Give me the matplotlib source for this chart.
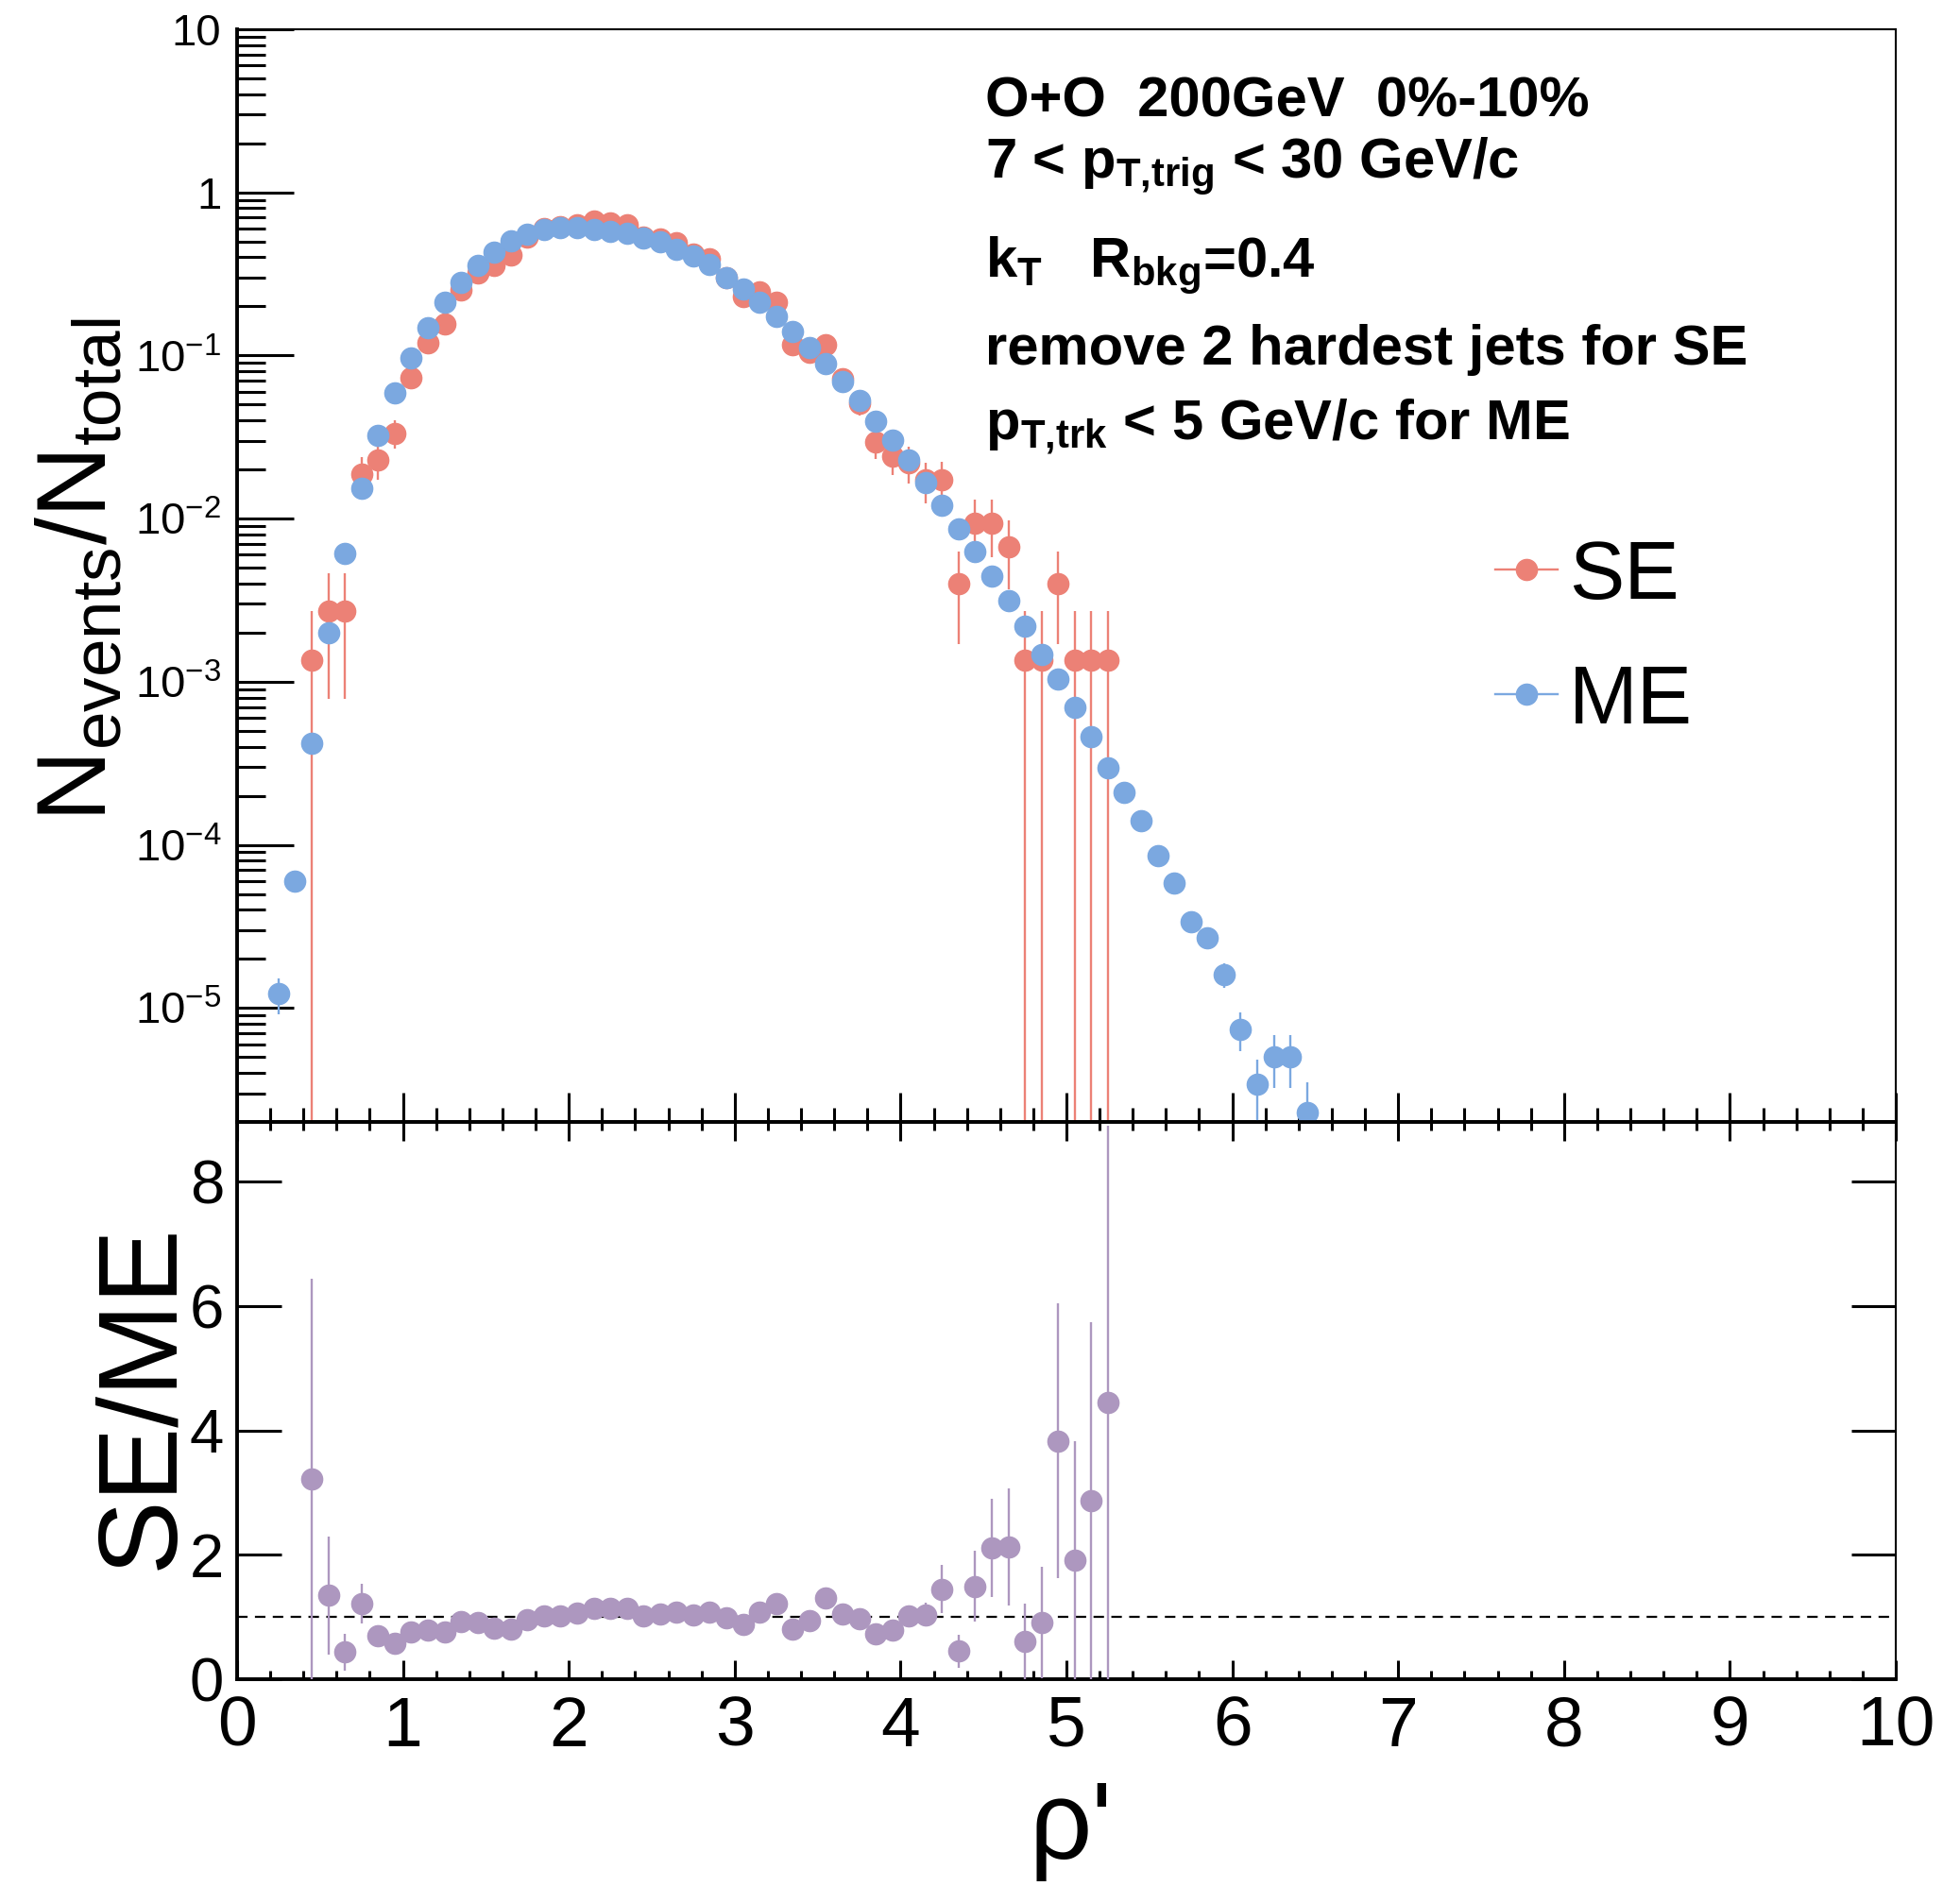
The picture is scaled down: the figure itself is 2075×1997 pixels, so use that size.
import numpy as np
import matplotlib
matplotlib.use("Agg")
import matplotlib.pyplot as plt
from matplotlib.lines import Line2D
from matplotlib.ticker import (FixedLocator, MultipleLocator, LogLocator,
                               FuncFormatter, NullFormatter)

plt.rcParams['font.family'] = ['Liberation Sans', 'DejaVu Sans']
plt.rcParams['mathtext.fontset'] = 'custom'
plt.rcParams['mathtext.rm'] = 'Liberation Sans'
plt.rcParams['mathtext.it'] = 'Liberation Sans:italic'
plt.rcParams['mathtext.bf'] = 'Liberation Sans:bold'
plt.rcParams['mathtext.sf'] = 'Liberation Sans'

# ---- data ----
# mixed-event (ME) distribution, bin centres 0.25 ... 6.45
me_x = [0.25, 0.35, 0.45, 0.55, 0.65, 0.75, 0.85, 0.95, 1.05, 1.15,
        1.25, 1.35, 1.45, 1.55, 1.65, 1.75, 1.85, 1.95, 2.05, 2.15,
        2.25, 2.35, 2.45, 2.55, 2.65, 2.75, 2.85, 2.95, 3.05, 3.15,
        3.25, 3.35, 3.45, 3.55, 3.65, 3.75, 3.85, 3.95, 4.05, 4.15,
        4.25, 4.35, 4.45, 4.55, 4.65, 4.75, 4.85, 4.95, 5.05, 5.15,
        5.25, 5.35, 5.45, 5.55, 5.65, 5.75, 5.85, 5.95, 6.05, 6.15,
        6.25, 6.35, 6.45]
me_y = [1.22e-5, 5.98e-5, 4.2e-4, 2.0e-3, 6.1e-3, 0.0153, 0.0322, 0.059, 0.0964, 0.148,
        0.211, 0.281, 0.356, 0.430, 0.502, 0.553, 0.592, 0.605, 0.605, 0.595,
        0.578, 0.561, 0.525, 0.500, 0.450, 0.408, 0.360, 0.301, 0.257, 0.213,
        0.173, 0.140, 0.112, 0.0887, 0.0689, 0.0532, 0.0398, 0.0301, 0.0229, 0.0166,
        0.0121, 0.0087, 0.0063, 0.00446, 0.00313, 0.00219, 0.00147, 0.00104, 6.98e-4, 4.62e-4,
        2.98e-4, 2.09e-4, 1.40e-4, 8.6e-5, 5.85e-5, 3.37e-5, 2.69e-5, 1.60e-5, 7.4e-6, 3.42e-6,
        5.05e-6, 5.05e-6, 2.28e-6]
me_err = [3.0e-6, 6e-6, 2e-5, 5e-5, 1e-4, 2e-4, 3e-4, 4e-4, 5e-4, 6e-4,
          7e-4, 8e-4, 9e-4, 1e-3, 1e-3, 1e-3, 1e-3, 1e-3, 1e-3, 1e-3,
          1e-3, 1e-3, 1e-3, 1e-3, 1e-3, 9e-4, 9e-4, 8e-4, 7e-4, 7e-4,
          6e-4, 5e-4, 5e-4, 4e-4, 4e-4, 3e-4, 3e-4, 2e-4, 2e-4, 2e-4,
          1e-4, 1e-4, 1e-4, 8e-5, 6e-5, 5e-5, 4e-5, 3e-5, 2e-5, 2e-5,
          1.5e-5, 1.2e-5, 1e-5, 8e-6, 6e-6, 4e-6, 3.5e-6, 2.8e-6, 2.0e-6, 1.4e-6,
          1.8e-6, 1.8e-6, 1.2e-6]

# same-event (SE) distribution, bin centres 0.45 ... 5.25
se_x = [0.45, 0.55, 0.65, 0.75, 0.85, 0.95, 1.05, 1.15, 1.25, 1.35,
        1.45, 1.55, 1.65, 1.75, 1.85, 1.95, 2.05, 2.15, 2.25, 2.35,
        2.45, 2.55, 2.65, 2.75, 2.85, 2.95, 3.05, 3.15, 3.25, 3.35,
        3.45, 3.55, 3.65, 3.75, 3.85, 3.95, 4.05, 4.15, 4.25, 4.35,
        4.45, 4.55, 4.65, 4.75, 4.85, 4.95, 5.05, 5.15, 5.25]
se_y = [1.36e-3, 2.7e-3, 2.7e-3, 0.0187, 0.0229, 0.0334, 0.0733, 0.119, 0.156, 0.252,
        0.322, 0.355, 0.415, 0.532, 0.600, 0.614, 0.635, 0.670, 0.647, 0.635,
        0.530, 0.520, 0.490, 0.420, 0.390, 0.300, 0.231, 0.247, 0.213, 0.116,
        0.105, 0.116, 0.072, 0.051, 0.0296, 0.0241, 0.022, 0.0172, 0.0174, 0.0040,
        0.0094, 0.0094, 0.0067, 0.00135, 0.00135, 0.0040, 0.00135, 0.00135, 0.00135]
se_err = [1.36e-3, 1.92e-3, 1.92e-3, 5.0e-3, 5.6e-3, 6.7e-3, 0.010, 0.0127, 0.0146, 0.0185,
          0.0209, 0.022, 0.0238, 0.0269, 0.0286, 0.0289, 0.0294, 0.0302, 0.0297, 0.0294,
          0.0268, 0.0266, 0.0258, 0.0239, 0.023, 0.0202, 0.0177, 0.0183, 0.017, 0.0126,
          0.012, 0.0126, 0.0099, 0.0084, 0.0063, 0.0057, 0.0055, 0.0048, 0.0049, 0.0023,
          0.0036, 0.0036, 0.0030, 0.00135, 0.00135, 0.0023, 0.00135, 0.00135, 0.00135]

# SE/ME ratio
ratio_y = [3.22, 1.35, 0.435, 1.21, 0.70, 0.57, 0.755, 0.79, 0.755, 0.92,
           0.91, 0.815, 0.81, 0.96, 1.025, 1.01, 1.06, 1.135, 1.135, 1.14,
           1.01, 1.05, 1.085, 1.035, 1.085, 0.985, 0.88, 1.085, 1.21, 0.805,
           0.94, 1.30, 1.05, 0.975, 0.73, 0.79, 1.01, 1.035, 1.45, 0.45,
           1.49, 2.11, 2.13, 0.60, 0.91, 3.83, 1.91, 2.875, 4.455]
ratio_err = [3.22, 0.95, 0.30, 0.32, 0.08, 0.07, 0.06, 0.05, 0.05, 0.05,
             0.05, 0.05, 0.05, 0.05, 0.05, 0.05, 0.05, 0.05, 0.05, 0.05,
             0.05, 0.05, 0.05, 0.05, 0.06, 0.06, 0.06, 0.07, 0.08, 0.08,
             0.09, 0.10, 0.10, 0.10, 0.12, 0.13, 0.14, 0.19, 0.39, 0.27,
             0.57, 0.79, 0.94, 0.61, 0.90, 2.21, 1.92, 2.87, 4.45]

c_se = '#EC8176'
c_me = '#7BA8E0'
c_ratio = '#AD97BF'

W, H = 2075, 1997
fig = plt.figure(figsize=(W / 100, H / 100), dpi=100)
ax1 = fig.add_axes([251 / W, 1 - 1188 / H, 1756 / W, 1157 / H])
ax2 = fig.add_axes([251 / W, 1 - 1778 / H, 1756 / W, 590 / H])

ms = 16
ax1.errorbar(se_x, se_y, yerr=se_err, fmt='o', color=c_se, ms=ms,
             elinewidth=1.7, capsize=0, zorder=2)
ax1.errorbar(me_x, me_y, yerr=me_err, fmt='o', color=c_me, ms=ms,
             elinewidth=1.7, capsize=0, zorder=3)
ax1.set_yscale('log')
ax1.set_xlim(0, 10)
ax1.set_ylim(2e-6, 10)


def log_label(v, pos):
    if v >= 10:
        return '10'
    if abs(v - 1) < 1e-9:
        return '1'
    return r'$\mathregular{10^{%d}}$' % int(round(np.log10(v)))


ax1.yaxis.set_major_locator(FixedLocator([1e-5, 1e-4, 1e-3, 1e-2, 1e-1, 1, 10]))
ax1.yaxis.set_minor_locator(LogLocator(base=10, subs=np.arange(2, 10) * 1.0, numticks=50))
ax1.yaxis.set_major_formatter(FuncFormatter(log_label))
ax1.yaxis.set_minor_formatter(NullFormatter())
ax1.xaxis.set_major_locator(MultipleLocator(1))
ax1.xaxis.set_minor_locator(MultipleLocator(0.2))
ax1.tick_params(axis='y', which='major', direction='in', length=43, width=2.2,
                labelsize=34, pad=12, right=False)
ax1.tick_params(axis='y', which='minor', direction='in', length=21.5, width=2.2, right=False)
ax1.tick_params(axis='x', which='major', direction='in', length=22, width=2.2,
                labelbottom=False, top=False)
ax1.tick_params(axis='x', which='minor', direction='in', length=11, width=2.2, top=False)
for s in ['left', 'bottom']:
    ax1.spines[s].set_linewidth(2.8)
for s in ['top', 'right']:
    ax1.spines[s].set_linewidth(1.5)

handles = [Line2D([], [], color=c_se, marker='o', ms=ms, lw=1.7),
           Line2D([], [], color=c_me, marker='o', ms=ms, lw=1.7)]
ax1.legend(handles, ['SE', 'ME'], loc='upper left',
           bbox_to_anchor=(1583 / W, 1 - 571 / H), bbox_transform=fig.transFigure,
           frameon=False, fontsize=63, handlelength=0.75, handletextpad=0.14,
           labelspacing=0.58, borderpad=0, borderaxespad=0)

# info text
tx = 1043 / W
kw = dict(fontsize=43, fontweight='bold', va='baseline', ha='left')
fig.text(tx, 1 - 123 / H, 'O+O  200GeV  0%-10%', **kw)
fig.text(tx, 1 - 189 / H, r'7 < p$_{\mathbf{T{,}trig}}$ < 30 GeV/c', **kw)
fig.text(tx, 1 - 294 / H, r'k$_{\mathbf{T}}$   R$_{\mathbf{bkg}}$=0.4', **kw)
fig.text(tx, 1 - 386 / H, 'remove 2 hardest jets for SE', **kw)
fig.text(tx, 1 - 465 / H, r'p$_{\mathbf{T{,}trk}}$ < 5 GeV/c for ME', **kw)

# ratio panel
ax2.errorbar(se_x, ratio_y, yerr=ratio_err, fmt='o', color=c_ratio, ms=ms,
             elinewidth=1.7, capsize=0, zorder=3)
ax2.axhline(1, color='black', lw=1.6, ls=(0, (5, 3.5)), zorder=2)
ax2.set_xlim(0, 10)
ax2.set_ylim(0, 8.96)
ax2.yaxis.set_major_locator(FixedLocator([0, 2, 4, 6, 8]))
ax2.xaxis.set_major_locator(MultipleLocator(1))
ax2.xaxis.set_minor_locator(MultipleLocator(0.2))
ax2.tick_params(axis='y', which='major', direction='in', length=34, width=2.2,
                labelsize=47, pad=10, right=True)
ax2.tick_params(axis='x', which='major', direction='in', length=14.5, width=2.2,
                labelsize=54, pad=12, top=True)
ax2.tick_params(axis='x', which='minor', direction='in', length=6.5, width=2.2, top=True)
for s in ['left', 'bottom', 'top']:
    ax2.spines[s].set_linewidth(2.8)
ax2.spines['right'].set_linewidth(1.5)

# axis titles
fig.text(112 / W, 1 - 603 / H, r'$\mathregular{N_{events}/N_{total}}$', fontsize=75,
         rotation=90, rotation_mode='anchor', ha='center', va='baseline')
fig.text(182 / W, 1 - 1479 / H, 'SE/ME', fontsize=85,
         rotation=90, rotation_mode='anchor', ha='center', va='baseline')
fig.text(1134 / W, 1 - 1968 / H, "ρ'", fontsize=84, ha='center', va='baseline')

fig.savefig('out.png', dpi=100)
